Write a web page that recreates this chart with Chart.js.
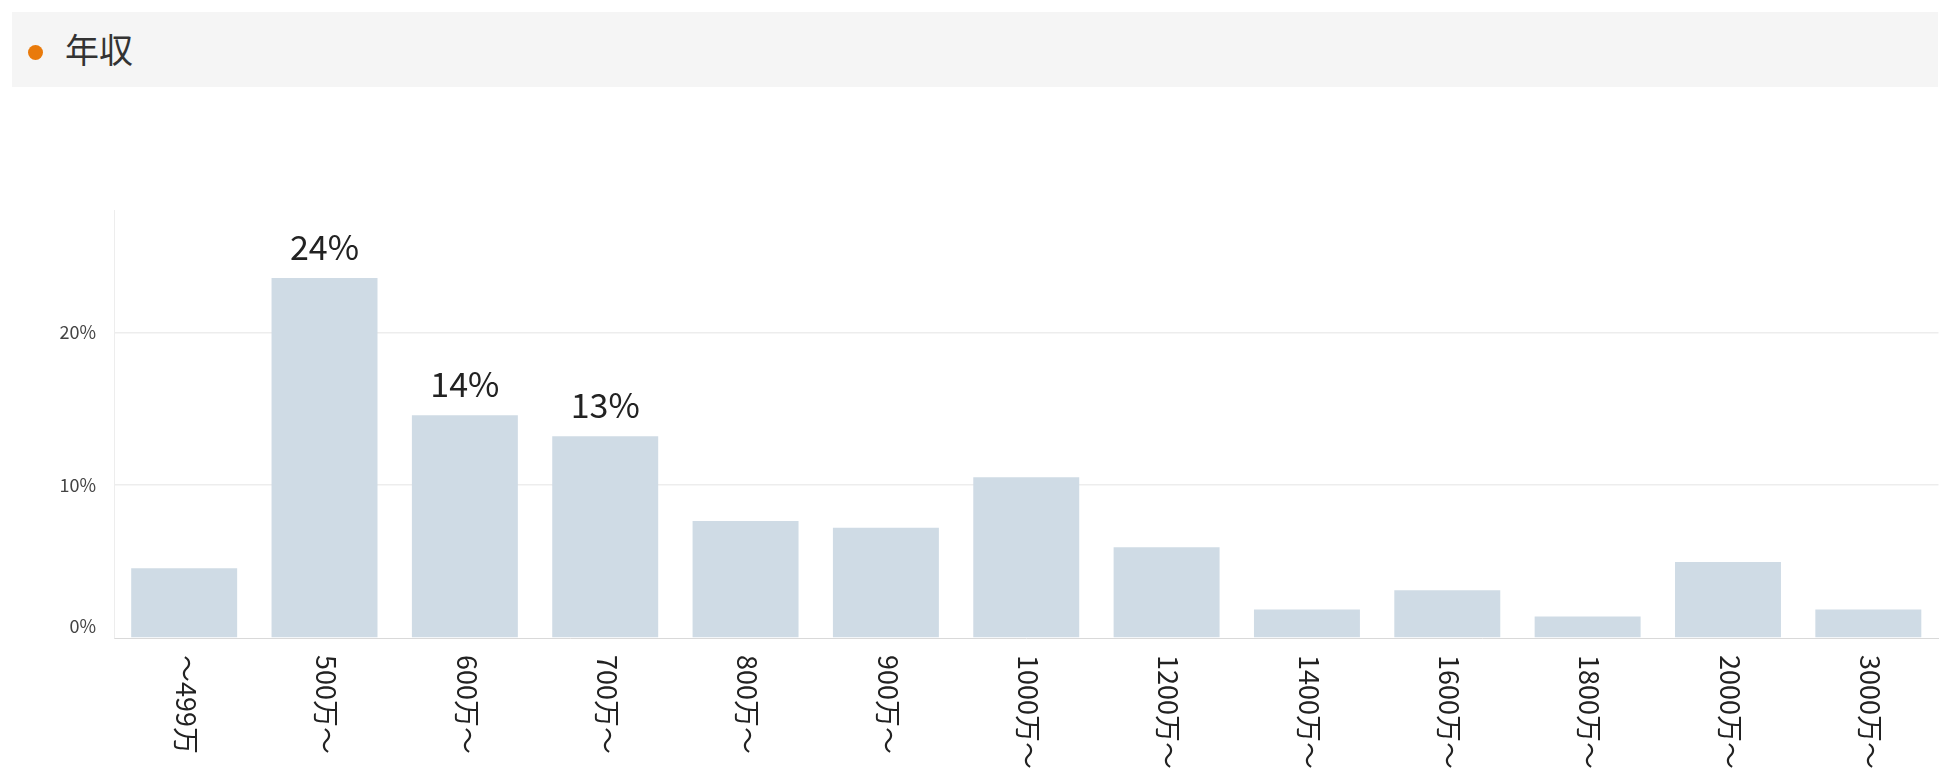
<!DOCTYPE html>
<html>
<head>
<meta charset="utf-8">
<script src="https://cdn.jsdelivr.net/npm/chart.js@4/dist/chart.umd.min.js"></script>
<style>
  html, body { margin: 0; padding: 0; background: #fff; width: 1950px; height: 781px; overflow: hidden; }
  #wrap { position: relative; width: 1950px; height: 781px; }
  #chart { position: absolute; left: 0; top: 0; }
  #header { position: absolute; left: 12px; top: 12px; width: 1926px; height: 75px; background: #f5f5f5; z-index: 2; }
  #dot { position: absolute; left: 15.5px; top: 33px; width: 15px; height: 15px; border-radius: 50%; background: #e97a0b; }
  #title { position: absolute; left: 53px; top: 20px; font-family: "Noto Sans CJK JP", sans-serif; font-size: 34px; line-height: 34px; color: #333; }
</style>
</head>
<body>
<div id="wrap">
  <canvas id="chart" width="1950" height="781"></canvas>
  <div id="header"><div id="dot"></div><div id="title">年収</div></div>
</div>
<script>
// ---- data ----
const categories = ['〜499万', '500万〜', '600万〜', '700万〜', '800万〜', '900万〜', '1000万〜', '1200万〜', '1400万〜', '1600万〜', '1800万〜', '2000万〜', '3000万〜'];
const shares = [4.56, 23.55, 14.58, 13.2, 7.65, 7.21, 10.51, 5.94, 1.86, 3.12, 1.40, 4.98, 1.86];
const valueLabels = ['', '24%', '14%', '13%', '', '', '', '', '', '', '', '', ''];
const yTickValues = [0, 10, 20];
const yMax = 28;

const FONT = '"Noto Sans CJK JP", "Noto Sans", sans-serif';

const labelPlugin = {
  id: 'customLabels',
  afterDatasetsDraw(chart) {
    const ctx = chart.ctx;
    const meta = chart.getDatasetMeta(0);
    ctx.save();
    ctx.font = '34px ' + FONT;
    ctx.fillStyle = '#222';
    ctx.textAlign = 'center';
    ctx.textBaseline = 'alphabetic';
    meta.data.forEach((bar, i) => {
      if (valueLabels[i]) ctx.fillText(valueLabels[i], bar.x, bar.y - 18);
    });
    const xs = chart.scales.x;
    const base = chart.chartArea.bottom;
    ctx.font = '27px ' + FONT;
    ctx.fillStyle = '#222';
    ctx.textAlign = 'left';
    ctx.textBaseline = 'middle';
    chart.data.labels.forEach((lab, i) => {
      const x = xs.getPixelForTick(i);
      ctx.save();
      ctx.translate(x + 2, base + 17);
      ctx.rotate(Math.PI / 2);
      ctx.fillText(lab, 0, 0);
      ctx.restore();
    });
    ctx.restore();
  }
};

new Chart(document.getElementById('chart'), {
  type: 'bar',
  data: {
    labels: categories,
    datasets: [{
      data: shares,
      backgroundColor: '#cfdbe5',
      borderWidth: 0,
      categoryPercentage: 1.0,
      barPercentage: 0.755
    }]
  },
  options: {
    responsive: false,
    animation: false,
    devicePixelRatio: 1,
    layout: { padding: { top: 210, right: 11.5, left: 0, bottom: 0 } },
    plugins: { legend: { display: false }, tooltip: { enabled: false } },
    scales: {
      x: {
        grid: { display: false },
        ticks: { display: false },
        border: { display: true, color: '#d9d9d9', dash: [4, 3], width: 1 },
        afterFit(s) { s.height = 143; }
      },
      y: {
        min: 0,
        max: yMax,
        afterBuildTicks(s) { s.ticks = yTickValues.map(v => ({ value: v })); },
        ticks: {
          padding: 18,
          color: '#444',
          font: { family: FONT, size: 18, lineHeight: 1.35 },
          callback: (v) => v === 0 ? [v + '%', ''] : v + '%'
        },
        grid: {
          drawTicks: false,
          lineWidth: 1.5,
          color: (c) => (c.tick && c.tick.value === 0) ? 'rgba(0,0,0,0)' : '#ededed'
        },
        border: { display: true, color: '#ededed', width: 1 },
        afterFit(s) { s.width = 114; }
      }
    }
  },
  plugins: [labelPlugin]
});
</script>
</body>
</html>
